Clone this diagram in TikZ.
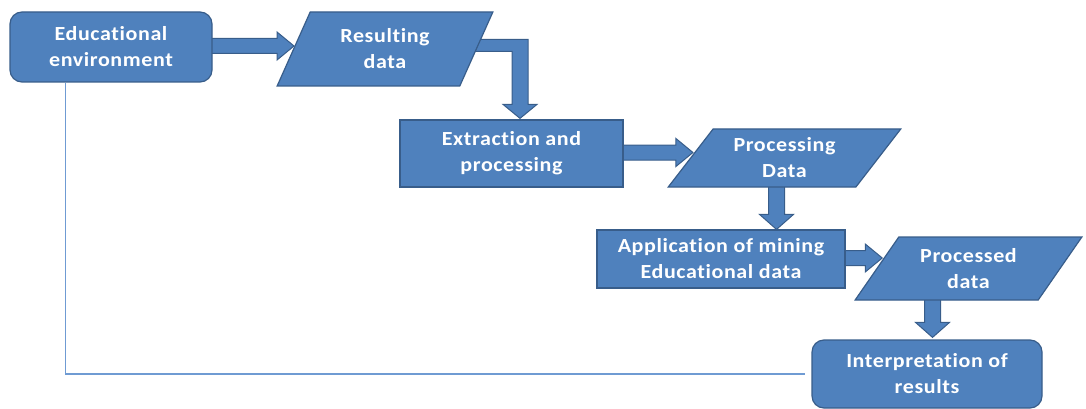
\documentclass[tikz,border=0pt]{standalone}
\usepackage{fontspec}
\newfontfamily\nf{Carlito}[FakeStretch=1.1, LetterSpace=3, Ligatures=NoCommon]
\usetikzlibrary{shapes.geometric,calc,backgrounds}
\definecolor{boxfill}{HTML}{4F81BD}
\definecolor{boxline}{HTML}{385D8A}
\definecolor{thinline}{HTML}{6F9BD3}
\tikzset{
 base/.style={fill=boxfill, draw=boxline, line width=1.2pt, text=white,
   font=\nf\bfseries\fontsize{20}{26}\selectfont, align=center, inner sep=2pt},
 rbox/.style={base, rectangle, rounded corners=12pt},
 sbox/.style={base, rectangle},
 pbox/.style={base, trapezium, trapezium stretches=true},
 blk/.style={fill=boxfill, draw=boxline, line width=1pt, line join=miter},
}
\newcommand\harrow[2]{\draw[blk] let \p1=(#1), \p2=(#2) in
  (\x1,\y1+7.5pt) -- (\x2-17pt,\y1+7.5pt) -- (\x2-17pt,\y1+14pt) -- (\x2,\y1)
  -- (\x2-17pt,\y1-14pt) -- (\x2-17pt,\y1-7.5pt) -- (\x1,\y1-7.5pt) -- cycle;}
\newcommand\varrow[2]{\draw[blk] let \p1=(#1), \p2=(#2) in
  (\x1-8pt,\y1) -- (\x1-8pt,\y2+15pt) -- (\x1-17pt,\y2+15pt) -- (\x1,\y2)
  -- (\x1+17pt,\y2+15pt) -- (\x1+8pt,\y2+15pt) -- (\x1+8pt,\y1) -- cycle;}
\newcommand\earrow[2]{\draw[blk] let \p1=(#1), \p2=(#2) in
  (\x1,\y1+6pt) -- (\x2+8pt,\y1+6pt) -- (\x2+8pt,\y2+14pt) -- (\x2+17pt,\y2+14pt)
  -- (\x2,\y2) -- (\x2-17pt,\y2+14pt) -- (\x2-8pt,\y2+14pt) -- (\x2-8pt,\y1-6pt)
  -- (\x1,\y1-6pt) -- cycle;}
\begin{document}
\begin{tikzpicture}[x=1pt,y=1pt]
\useasboundingbox (0,0) rectangle (1086,-409);
\node[rbox, minimum width=202pt, minimum height=70pt] (n1) at (111,-47) {Educational\\environment};
\node[pbox, trapezium left angle=65, trapezium right angle=115, minimum width=216pt, minimum height=74pt] (n2) at (385,-49) {Resulting\\data};
\node[sbox, minimum width=223pt, minimum height=67pt] (n3) at (511.5,-153.5) {Extraction and\\processing};
\node[pbox, trapezium left angle=53, trapezium right angle=127, minimum width=233pt, minimum height=58pt] (n4) at (784.5,-158) {Processing\\Data};
\node[sbox, minimum width=248pt, minimum height=58pt] (n5) at (721,-259) {Application of mining\\Educational data};
\node[pbox, trapezium left angle=54.5, trapezium right angle=125.5, minimum width=227pt, minimum height=63pt] (n6) at (968.5,-268.5) {Processed\\data};
\node[rbox, minimum width=230pt, minimum height=68pt] (n7) at (927,-374) {Interpretation of\\results};
\begin{scope}[on background layer]
\harrow{[xshift=-3pt,yshift=1pt]n1.east}{[xshift=1pt]n2.west}
\earrow{[xshift=-5pt,yshift=3.5pt]n2.east}{[xshift=8.5pt,yshift=1pt]n3.north}
\harrow{[xshift=-3pt,yshift=1pt]n3.east}{[xshift=3pt]n4.west}
\varrow{[xshift=-8pt,yshift=3pt]n4.south}{n5.north}
\harrow{[xshift=-3pt,yshift=1pt]n5.east}{[xshift=6pt]n6.west}
\varrow{[xshift=-36pt,yshift=3pt]n6.south}{[yshift=2pt]n7.north}
\end{scope}
\draw[thinline, line width=1.5pt] ([xshift=56pt]n1.south west) |- ([xshift=-6pt]n7.west);
\end{tikzpicture}
\end{document}
